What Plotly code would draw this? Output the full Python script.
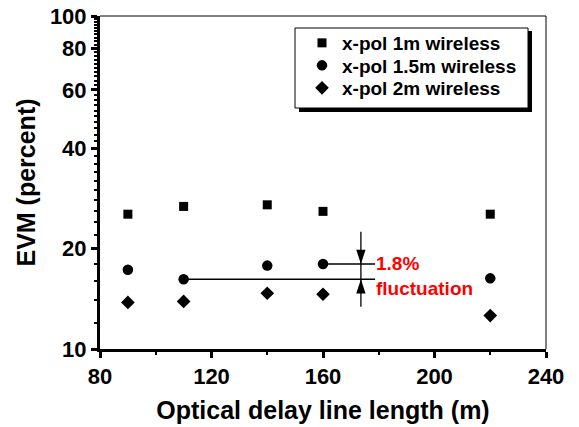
import math
import plotly.graph_objects as go

# ---- data ----
delay_m = [90, 110, 140, 160, 220]
evm_1m = [25.4, 26.8, 27.1, 25.9, 25.4]
evm_1p5m = [17.3, 16.2, 17.8, 18.0, 16.3]
evm_2m = [13.8, 13.9, 14.7, 14.6, 12.6]
series_names = ["x-pol 1m wireless", "x-pol 1.5m wireless", "x-pol 2m wireless"]

x_ticks = [80, 120, 160, 200, 240]
x_minor = [100, 140, 180, 220]
y_ticks = [10, 20, 40, 60, 80, 100]
y_minor = [v for v in range(12, 100, 2) if v not in y_ticks]

# fluctuation annotation (values in data units)
fluct_x = 173.6          # x of vertical double-arrow
fluct_line_end = 178.7   # right end of the horizontal guide lines
fluct_top = 22.5         # top of vertical line
fluct_bottom = 13.4      # bottom of vertical line
fluct_text_x = 178.4
fluct_label = "1.8%<br>fluctuation"

FONT = "Liberation Sans"

# plot area pixels: x 100..546, y 16..349
W, H = 446.0, 333.0
def px(x):
    return (x - 100) / W
def py(y):
    return (349 - y) / H

fig = go.Figure()
symbols = [("square", 9), ("circle", 10.5), ("diamond", 10.5)]
values = [evm_1m, evm_1p5m, evm_2m]
legend_ids = ["legend", "legend2", "legend3"]
for name, vals, (sym, sz), lid in zip(series_names, values, symbols, legend_ids):
    fig.add_trace(go.Scatter(x=delay_m, y=vals, mode="markers", name=name, legend=lid,
                             marker=dict(symbol=sym, size=sz, color="black")))

hi = max(evm_1p5m)
lo = min(evm_1p5m)
x_hi = delay_m[evm_1p5m.index(hi)]
x_lo = delay_m[evm_1p5m.index(lo)]

line_style = dict(color="black", width=1.3)
fig.add_trace(go.Scatter(x=[x_hi, fluct_line_end], y=[hi, hi], mode="lines",
                         line=line_style, showlegend=False, hoverinfo="skip"))
fig.add_trace(go.Scatter(x=[x_lo, fluct_line_end], y=[lo, lo], mode="lines",
                         line=line_style, showlegend=False, hoverinfo="skip"))
fig.add_trace(go.Scatter(x=[fluct_x, fluct_x], y=[fluct_bottom, fluct_top], mode="lines",
                         line=line_style, showlegend=False, hoverinfo="skip"))
# arrowheads (tip sits on the data point)
fig.add_trace(go.Scatter(x=[fluct_x], y=[hi], mode="markers", showlegend=False, hoverinfo="skip",
                         marker=dict(symbol="arrow", angle=180, size=15, color="black")))
fig.add_trace(go.Scatter(x=[fluct_x], y=[lo], mode="markers", showlegend=False, hoverinfo="skip",
                         marker=dict(symbol="arrow", angle=0, size=15, color="black")))

fig.add_annotation(x=fluct_text_x, y=math.log10((hi * lo) ** 0.5) - 0.012, xref="x", yref="y",
                   text=fluct_label, showarrow=False, xanchor="left", yanchor="middle", align="left",
                   font=dict(family=FONT, size=19, color="#ff0000", weight="bold"))

shapes = [
    # top and right frame lines (thin)
    dict(type="line", xref="paper", yref="paper", x0=0, x1=1, y0=1, y1=1,
         line=dict(color="black", width=1)),
    dict(type="line", xref="paper", yref="paper", x0=1, x1=1, y0=0, y1=1,
         line=dict(color="black", width=1)),
    # legend shadow and box
    dict(type="rect", xref="paper", yref="paper", x0=px(299), x1=px(532), y0=py(112), y1=py(31),
         fillcolor="black", line=dict(width=0), layer="above"),
    dict(type="rect", xref="paper", yref="paper", x0=px(295), x1=px(528), y0=py(108), y1=py(28),
         fillcolor="white", line=dict(color="black", width=1), layer="above"),
]

legend_font = dict(family=FONT, size=19, color="black", weight="bold")
legend_rows = [43, 65.5, 88]
legend_common = dict(xanchor="left", yanchor="middle", bgcolor="rgba(0,0,0,0)",
                     borderwidth=0, font=legend_font)

fig.update_layout(
    template="none",
    width=579, height=427,
    margin=dict(l=100, r=33, t=16, b=78),
    paper_bgcolor="white", plot_bgcolor="white",
    font=dict(family=FONT, color="black", weight="bold"),
    shapes=shapes,
    showlegend=True,
    legend=dict(x=px(302), y=py(legend_rows[0]), **legend_common),
    legend2=dict(x=px(302), y=py(legend_rows[1]), **legend_common),
    legend3=dict(x=px(302), y=py(legend_rows[2]), **legend_common),
    xaxis=dict(range=[80, 240], tickmode="array", tickvals=x_ticks, automargin=False,
               showgrid=False, zeroline=False,
               showline=True, linewidth=3, linecolor="black",
               ticks="outside", ticklen=6, tickwidth=2.5, tickcolor="black",
               tickfont=dict(family=FONT, size=22, weight="bold"),
               minor=dict(tickmode="array", tickvals=x_minor, ticks="outside", ticklen=3,
                          tickwidth=2, tickcolor="black", showgrid=False),
               title=dict(text="Optical delay line length (m)",
                          font=dict(family=FONT, size=25, weight="bold"), standoff=14)),
    yaxis=dict(type="log", range=[1, 2], tickmode="array", tickvals=y_ticks, automargin=False,
               ticktext=[str(v) for v in y_ticks],
               showgrid=False, zeroline=False,
               showline=True, linewidth=3, linecolor="black",
               ticks="outside", ticklen=6, tickwidth=2.5, tickcolor="black",
               tickfont=dict(family=FONT, size=22, weight="bold"),
               minor=dict(tickmode="array", tickvals=y_minor, ticks="outside", ticklen=3,
                          tickwidth=2, tickcolor="black", showgrid=False),
               title=dict(text="EVM (percent)",
                          font=dict(family=FONT, size=25, weight="bold"), standoff=8)),
)

fig.write_html("out.html", config={"displayModeBar": False},
               post_script="document.body.style.margin='0';")
